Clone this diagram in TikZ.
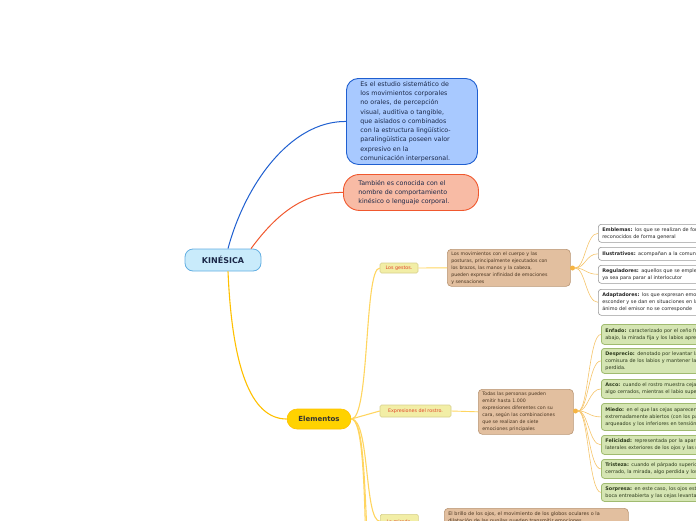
\documentclass[tikz,border=0pt]{standalone}
\usepackage{fontspec}
\setmainfont{DejaVu Sans}
\definecolor{bluefill}{HTML}{A8C9FF}
\definecolor{blueline}{HTML}{1F5FD0}
\definecolor{salfill}{HTML}{F8BBA5}
\definecolor{salline}{HTML}{F0582E}
\definecolor{kinfill}{HTML}{C9EBFB}
\definecolor{kinline}{HTML}{62AEE2}
\definecolor{kintext}{HTML}{1B2848}
\definecolor{goldfill}{HTML}{FFD200}
\definecolor{goldline}{HTML}{FFC000}
\definecolor{paleline}{HTML}{FFD560}
\definecolor{thinline}{HTML}{F5C46A}
\definecolor{pyfill}{HTML}{F2EEA6}
\definecolor{pyline}{HTML}{D6CF8A}
\definecolor{pytext}{HTML}{E0452B}
\definecolor{tanfill}{HTML}{E2BF9F}
\definecolor{tanline}{HTML}{B99573}
\definecolor{tantext}{HTML}{4A3520}
\definecolor{greenfill}{HTML}{D5E5B3}
\definecolor{greenline}{HTML}{A0BB70}
\definecolor{greentext}{HTML}{2C3A1C}
\definecolor{knob}{HTML}{F6B442}
\begin{document}
\begin{tikzpicture}[x=1pt,y=-1pt,
  topic/.style={draw=blueline, fill=bluefill, line width=0.9pt, rounded corners=12pt, anchor=north west,
    font=\fontsize{6.3}{9.3}\selectfont, text=kintext, align=left, inner xsep=14pt, inner ysep=0pt},
  root/.style={draw=kinline, fill=kinfill, line width=0.8pt, rounded corners=8pt, font=\fontsize{8}{9}\selectfont\bfseries,
    text=kintext, minimum width=76pt, minimum height=22pt, inner sep=0pt},
  main/.style={draw=goldline, fill=goldfill, line width=0.6pt, rounded corners=10pt, font=\fontsize{7}{8}\selectfont\bfseries,
    text=black!80, minimum width=64pt, minimum height=20pt, inner sep=0pt},
  sub/.style={draw=pyline, fill=pyfill, line width=0.6pt, rounded corners=1.5pt, font=\fontsize{4.8}{6}\selectfont,
    text=pytext, inner sep=0pt},
  tan/.style={draw=tanline, fill=tanfill, line width=0.6pt, rounded corners=4pt, anchor=north west, align=left,
    font=\fontsize{4.7}{7}\selectfont, text=tantext, inner xsep=4pt, inner ysep=0pt},
  leaf/.style={draw=black!40, fill=white, line width=0.6pt, rounded corners=3pt, anchor=north west, align=left,
    font=\fontsize{4.9}{7}\selectfont, text=black!85, inner xsep=4pt, inner ysep=0pt, text width=192pt},
  gleaf/.style={draw=greenline, fill=greenfill, line width=0.8pt, rounded corners=3pt, anchor=north west, align=left,
    font=\fontsize{4.9}{7}\selectfont, text=greentext, inner xsep=4pt, inner ysep=0pt, text width=192pt},
  thin/.style={draw=thinline, line width=0.6pt},
  pale/.style={draw=paleline, line width=1.1pt}
]
\useasboundingbox (0,0) rectangle (696,520);
\clip (0,0) rectangle (696,520);

% root and top topics
\node[root] (kin) at (223,260) {KINÉSICA};
\node[topic, text width=103pt, minimum height=86pt] (def) at (346,78)
 {Es el estudio sistemático de\\los movimientos corporales\\no orales, de percepción\\visual, auditiva o tangible,\\que aislados o combinados\\con la estructura lingüístico-\\paralingüística poseen valor\\expresivo en la\\comunicación interpersonal.};
\node[topic, draw=salline, fill=salfill, rounded corners=16pt, inner xsep=15pt, text width=105pt, minimum height=36pt] (tam) at (343,174)
 {También es conocida con el\\nombre de comportamiento\\kinésico o lenguaje corporal.};
\node[main] (ele) at (319,419) {Elementos};

\draw[blueline, line width=1pt] ([xshift=5pt]kin.north) .. controls (245,185) and (290,121) .. (def.west);
\draw[salline, line width=1pt] ([xshift=28pt]kin.north) .. controls (278,212) and (305,192) .. (tam.west);
\draw[goldline, line width=1.1pt] ([xshift=5pt]kin.south) .. controls (232,365) and (250,419) .. (ele.west);

% subtopics
\node[sub, minimum width=38pt, minimum height=10pt] (ges) at (399,268) {Los gestos.};
\node[sub, minimum width=71pt, minimum height=12pt] (exp) at (415.5,411) {Expresiones del rostro.};
\node[sub, minimum width=38pt, minimum height=14pt, anchor=north west] (mir) at (380,514) {La mirada.};
\coordinate (c4) at (380,600);
\coordinate (c5) at (380,680);

\draw[pale] (ele.east) .. controls (370,419) and (364,268) .. (ges.west);
\draw[pale] (ele.east) -- (exp.west);
\draw[pale] (ele.east) .. controls (370,419) and (364,521) .. (mir.west);
\draw[pale] (ele.east) .. controls (372,419) and (360,600) .. (c4);
\draw[pale] (ele.east) .. controls (374,419) and (358,680) .. (c5);

% tan boxes
\node[tan, text width=115pt, minimum height=37pt] (t1) at (447,249)
 {Los movimientos con el cuerpo y las\\posturas, principalmente ejecutados con\\los brazos, las manos y la cabeza,\\pueden expresar infinidad de emociones\\y sensaciones};
\node[tan, text width=87pt, minimum height=45pt] (t2) at (478,389)
 {Todas las personas pueden\\emitir hasta 1.000\\expresiones diferentes con su\\cara, según las combinaciones\\que se realizan de siete\\emociones principales};
\node[tan, text width=176pt, inner ysep=3pt, anchor=north west, font=\fontsize{4.9}{7}\selectfont] (t3) at (444,508)
 {El brillo de los ojos, el movimiento de los globos oculares o la\\dilatación de las pupilas pueden transmitir emociones};

\draw[pale, line width=0.9pt] (ges.east) -- (t1.west);
\draw[pale, line width=0.9pt] (exp.east) -- (t2.west);
\draw[pale, line width=0.9pt] (mir.east) -- (t3.west |- mir.east);

\node[circle, fill=knob, inner sep=0pt, minimum size=5pt] (k1) at (572.5,268) {};
\node[circle, fill=knob, inner sep=0pt, minimum size=5pt] (k2) at (575.5,411) {};

% white leaves
\node[leaf, minimum height=18pt] (emb) at (598,224)
 {\textbf{Emblemas:} los que se realizan de forma consciente y son\\reconocidos de forma general};
\node[leaf, minimum height=13pt] (ilu) at (598,247)
 {\textbf{Ilustrativos:} acompañan a la comunicación verbal};
\node[leaf, minimum height=18pt] (reg) at (598,265)
 {\textbf{Reguladores:} aquellos que se emplean para dirigir la conversación,\\ya sea para parar al interlocutor};
\node[leaf, minimum height=26pt] (ada) at (598,289)
 {\textbf{Adaptadores:} los que expresan emociones que se intentan\\esconder y se dan en situaciones en las que el estado de\\ánimo del emisor no se corresponde};

\foreach \n in {emb,ilu,reg,ada}
  \draw[thin] (k1.east) .. controls +(10,0) and +(-12,0) .. (\n.west);

% green leaves
\node[gleaf, minimum height=20pt] (enf) at (601,324)
 {\textbf{Enfado:} caracterizado por el ceño fruncido, las cejas hacia\\abajo, la mirada fija y los labios apretados};
\node[gleaf, minimum height=25pt] (des) at (601,348)
 {\textbf{Desprecio:} denotado por levantar la\\comisura de los labios y mantener la mirada\\perdida.};
\node[gleaf, minimum height=19pt] (asc) at (601,379)
 {\textbf{Asco:} cuando el rostro muestra cejas y ojos\\algo cerrados, mientras el labio superior se eleva};
\node[gleaf, minimum height=27pt] (mie) at (601,403)
 {\textbf{Miedo:} en el que las cejas aparecen elevadas, los ojos\\extremadamente abiertos (con los párpados superiores\\arqueados y los inferiores en tensión};
\node[gleaf, minimum height=19pt] (fel) at (601,435)
 {\textbf{Felicidad:} representada por la aparición de arrugas en los\\laterales exteriores de los ojos y las mejillas elevadas};
\node[gleaf, minimum height=19pt] (tri) at (601,459)
 {\textbf{Tristeza:} cuando el párpado superior aparece\\cerrado, la mirada, algo perdida y los labios caídos};
\node[gleaf, minimum height=18pt] (sor) at (601,483)
 {\textbf{Sorpresa:} en este caso, los ojos están muy abiertos, la\\boca entreabierta y las cejas levantadas};

\foreach \n in {enf,des,asc,mie,fel,tri,sor}
  \draw[thin] (k2.east) .. controls +(10,0) and +(-12,0) .. (\n.west);
\end{tikzpicture}
\end{document}
